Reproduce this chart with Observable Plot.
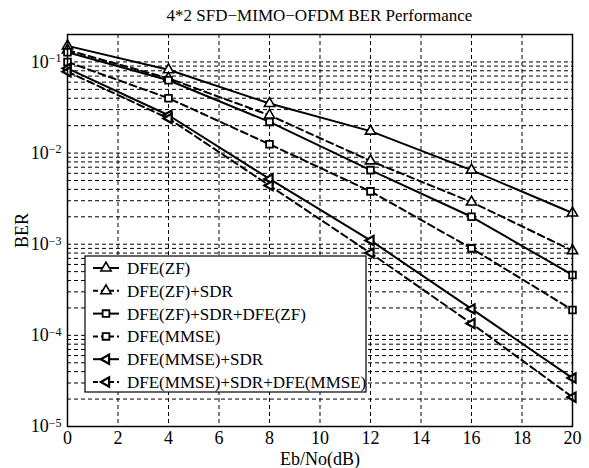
<!DOCTYPE html>
<html>
<head>
<meta charset="utf-8">
<script src="https://cdn.jsdelivr.net/npm/d3@7"></script>
<script src="https://cdn.jsdelivr.net/npm/@observablehq/plot@0.6"></script>
<style>
  body { margin: 0; background: white; }
  #title { height: 30px; box-sizing: border-box; padding: 6px 17px 0 67px; text-align: center;
           font-family: "Liberation Serif", serif;
           font-size: 17px; color: black; line-height: 20px; }
  svg text { font-family: "Liberation Serif", serif; }
</style>
</head>
<body>
<div id="title">4*2 SFD−MIMO−OFDM BER Performance</div>
<div id="chart"></div>
<script>
// ---- data ----
const ebno = [0, 4, 8, 12, 16, 20];
const seriesNames = ["DFE(ZF)", "DFE(ZF)+SDR", "DFE(ZF)+SDR+DFE(ZF)", "DFE(MMSE)", "DFE(MMSE)+SDR", "DFE(MMSE)+SDR+DFE(MMSE)"];
const berZF          = [0.150, 0.082, 0.035, 0.0174, 0.0065, 0.0022];
const berZFSDR       = [0.135, 0.066, 0.026, 0.0082, 0.0029, 0.00085];
const berZFSDRZF     = [0.128, 0.063, 0.022, 0.0065, 0.0020, 0.00046];
const berMMSE        = [0.100, 0.040, 0.0125, 0.0038, 0.00090, 0.00019];
const berMMSESDR     = [0.085, 0.026, 0.0052, 0.0011, 0.000195, 0.000034];
const berMMSESDRMMSE = [0.078, 0.024, 0.0044, 0.0008, 0.000135, 0.000021];
const xTicks = [0, 2, 4, 6, 8, 10, 12, 14, 16, 18, 20];
const yTicks = [1e-5, 1e-4, 1e-3, 1e-2, 1e-1];

// ---- styling ----
const FONT = '"Liberation Serif", serif';
const seriesValues = [berZF, berZFSDR, berZFSDRZF, berMMSE, berMMSESDR, berMMSESDRMMSE];
const dashes = [null, "7,4", null, "7,4", null, "7,4"];

const leftTriangle = {
  draw(ctx, size) {
    const r = Math.sqrt(size / Math.PI) * 1.35;
    ctx.moveTo(-r, 0);
    ctx.lineTo(r * 0.6, -r * 0.9);
    ctx.lineTo(r * 0.6, r * 0.9);
    ctx.closePath();
  }
};
const symbols = [d3.symbolTriangle, d3.symbolTriangle, d3.symbolSquare, d3.symbolSquare, leftTriangle, leftTriangle];
const markerStroke = [1.6, 1.6, 1.8, 1.8, 2.2, 2.2];

const rows = [];
seriesNames.forEach((name, i) => {
  ebno.forEach((x, j) => rows.push({series: name, idx: i, x, y: seriesValues[i][j]}));
});

// minor log grid
const gridY = [];
for (let e = -5; e <= -1; e++) for (let k = 1; k <= 9; k++) {
  const v = k * Math.pow(10, e);
  if (v <= 0.2 + 1e-12) gridY.push(v);
}

const marks = [
  Plot.ruleY(gridY, {stroke: "black", strokeWidth: 1, strokeDasharray: "4,3"}),
  Plot.ruleX(xTicks, {stroke: "black", strokeWidth: 1, strokeDasharray: "4,3"}),
  Plot.axisX(xTicks, {tickSize: 0, tickPadding: 5, fontSize: 18, label: "Eb/No(dB)",
                      labelAnchor: "center", labelArrow: "none", labelOffset: 38}),
  Plot.axisY(yTicks, {tickSize: 0, tickPadding: 6, fontSize: 18,
                      tickFormat: d => "10^" + Math.round(Math.log10(d)),
                      label: "BER", labelAnchor: "center", labelArrow: "none", labelOffset: 52}),
];
seriesNames.forEach((name, i) => {
  const data = rows.filter(r => r.idx === i);
  marks.push(Plot.line(data, {x: "x", y: "y", stroke: "black", strokeWidth: 2,
                              strokeDasharray: dashes[i] || undefined}));
  marks.push(Plot.dot(data, {x: "x", y: "y", symbol: symbols[i], r: 3.8, stroke: "black",
                             strokeWidth: markerStroke[i], fill: "white"}));
});
marks.push(Plot.frame({stroke: "black", strokeWidth: 1.5}));

const chart = Plot.plot({
  width: 589, height: 438,
  marginLeft: 67, marginRight: 17, marginTop: 4, marginBottom: 42,
  style: {fontFamily: FONT, fontSize: "18px", color: "black", background: "white"},
  x: {domain: [0, 20]},
  y: {type: "log", domain: [1e-5, 0.2]},
  marks
});
document.getElementById("chart").appendChild(chart);

const svg = d3.select(chart);
// superscript exponents on y tick labels
svg.selectAll('g[aria-label="y-axis tick label"] text').each(function() {
  const t = d3.select(this);
  const parts = t.text().split("^");
  if (parts.length === 2) {
    t.text(parts[0]);
    t.append("tspan").attr("dy", "-0.45em").attr("font-size", "12px")
      .text(parts[1].replace("-", "−"));
  }
});

// legend
const lx = 85, ly = 226, lw = 281, lh = 136, rowH = 22.8;
const lg = svg.append("g").style("font-family", FONT).style("font-size", "17px")
  .attr("text-anchor", "start");
lg.append("rect").attr("x", lx).attr("y", ly).attr("width", lw).attr("height", lh)
  .attr("fill", "white").attr("stroke", "black").attr("stroke-width", 1.2);
seriesNames.forEach((name, i) => {
  const cy = ly + 12 + i * rowH;
  lg.append("line").attr("x1", lx + 8).attr("x2", lx + 34).attr("y1", cy).attr("y2", cy)
    .attr("stroke", "black").attr("stroke-width", 2).attr("stroke-dasharray", dashes[i] ? "5,3" : null);
  lg.append("path").attr("transform", `translate(${lx + 21},${cy})`)
    .attr("d", d3.symbol(symbols[i], Math.PI * 3.8 * 3.8)())
    .attr("fill", "white").attr("stroke", "black").attr("stroke-width", markerStroke[i]);
  lg.append("text").attr("x", lx + 42).attr("y", cy).attr("dy", "0.35em")
    .style("text-anchor", "start").text(name);
});
</script>
</body>
</html>
